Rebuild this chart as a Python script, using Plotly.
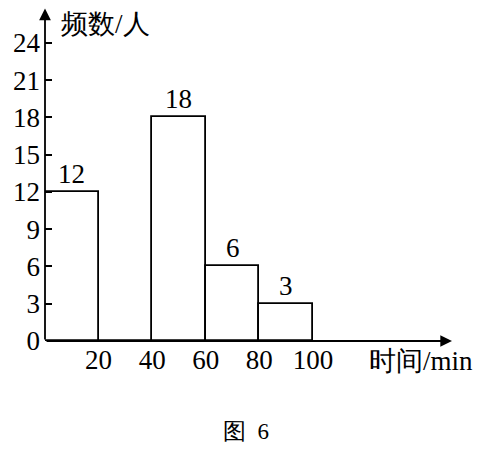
import plotly.graph_objects as go

bin_starts = [0, 20, 40, 60, 80]
bin_width = 20
counts = [12, 0, 18, 6, 3]
x_ticks = [20, 40, 60, 80, 100]
y_ticks = [0, 3, 6, 9, 12, 15, 18, 21, 24]
y_label = "频数/人"
x_label = "时间/min"
caption = "图\u20026"

FONT = "Liberation Serif"
X_MAX = 151.9
Y_MAX = 26.81

centers = [s + bin_width / 2 for s in bin_starts]

fig = go.Figure()
fig.add_trace(go.Bar(
    x=centers, y=counts, width=[bin_width] * len(counts),
    marker=dict(color="white", line=dict(color="black", width=1.8)),
    showlegend=False, hoverinfo="skip",
))

ann = []
for c, v in zip(centers, counts):
    if v > 0:
        ann.append(dict(x=c, y=v, text=str(v), showarrow=False, yanchor="bottom",
                        yshift=1, font=dict(family=FONT, size=27, color="black")))
# axis arrows (full-length lines from the origin)
ann.append(dict(x=X_MAX, y=0, ax=0, ay=0, axref="x", ayref="y", xref="x", yref="y",
                text="", showarrow=True, arrowhead=2, arrowsize=1.3, arrowwidth=1.8,
                arrowcolor="black", standoff=0, startstandoff=0))
ann.append(dict(x=0, y=Y_MAX - 0.05, ax=0, ay=0, axref="x", ayref="y", xref="x", yref="y",
                text="", showarrow=True, arrowhead=2, arrowsize=1.3, arrowwidth=1.8,
                arrowcolor="black", standoff=0, startstandoff=0))
ann.append(dict(x=0.037, y=1.0, xref="paper", yref="paper", text=y_label, showarrow=False,
                xanchor="left", yanchor="top", borderpad=0,
                font=dict(family=FONT, size=27, color="black")))
ann.append(dict(x=0.791, y=-0.06, xref="paper", yref="paper", text=x_label, showarrow=False,
                xanchor="left", yanchor="middle", font=dict(family=FONT, size=27, color="black")))
ann.append(dict(x=0.494, y=-0.273, xref="paper", yref="paper", text=caption, showarrow=False,
                xanchor="center", yanchor="middle", font=dict(family=FONT, size=23, color="black")))

fig.update_layout(
    width=466, height=437,
    margin=dict(l=37, r=22, t=0, b=104, autoexpand=False),
    paper_bgcolor="white", plot_bgcolor="white",
    bargap=0,
    font=dict(family=FONT, color="black"),
    annotations=ann,
    xaxis=dict(range=[0, X_MAX], tickvals=x_ticks, ticktext=[str(t) for t in x_ticks],
               automargin=False,
               showgrid=False, zeroline=False, showline=False,
               ticks="", tickfont=dict(family=FONT, size=27, color="black"), ticklabelstandoff=0),
    yaxis=dict(range=[0, Y_MAX], tickvals=y_ticks, ticktext=[str(t) for t in y_ticks],
               automargin=False,
               showgrid=False, zeroline=False, showline=False,
               ticks="inside", ticklen=7, tickwidth=1.5, tickcolor="black",
               tickfont=dict(family=FONT, size=27, color="black"), ticklabelstandoff=4),
)

fig.write_html("out.html")
